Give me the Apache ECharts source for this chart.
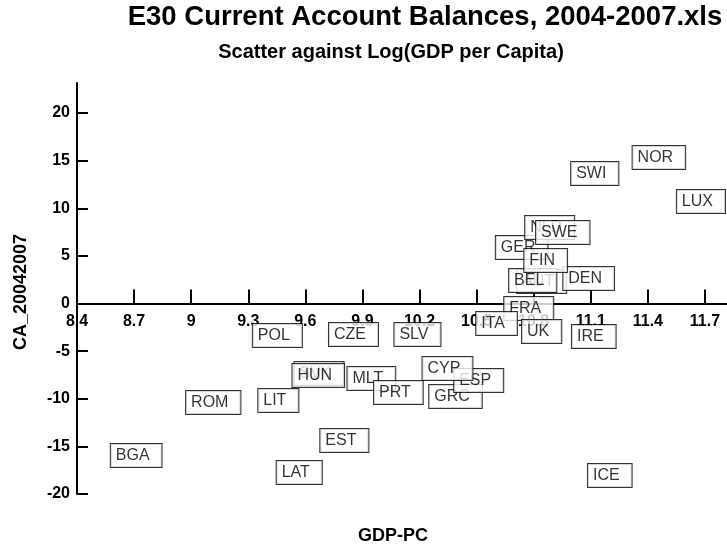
<!DOCTYPE html>
<html><head><meta charset="utf-8">
<script src="https://cdn.jsdelivr.net/npm/echarts@6/dist/echarts.min.js"></script>
<style>html,body{margin:0;padding:0;background:#fff}#c{width:727px;height:548px}</style>
</head><body><div id="c"></div>
<script>
// drawing order: earlier entries lie underneath later ones
const countries = ['BGA','ROM','LIT','LAT','EST','SVK','HUN','MLT','PRT','GRC','ESP','CYP','POL','CZE','SLV','FRA','ITA','UK','IRE','ICE','AUT','BEL','DEN','GER','NLD','SWE','FIN','SWI','NOR','LUX'];
const gdpPc = [8.711,9.116,9.458,9.568,9.805,9.672,9.668,9.947,10.089,10.389,10.511,10.347,9.453,9.853,10.189,10.774,10.605,10.842,11.116,11.200,10.842,10.795,11.089,10.737,10.884,10.953,10.863,11.121,11.458,11.679];
const caBalance = [-15.74,-10.18,-9.97,-17.52,-14.17,-7.14,-7.35,-7.66,-9.13,-9.55,-7.87,-6.61,-3.15,-3.04,-3.04,-0.31,-1.89,-2.73,-3.25,-17.84,2.52,2.62,2.83,6.09,8.18,7.66,4.72,13.85,15.53,10.91];
const xTicks = [8.4,8.7,9,9.3,9.6,9.9,10.2,10.5,10.8,11.1,11.4,11.7];
const yTicks = [-20,-15,-10,-5,0,5,10,15,20];

const FONT = '"Liberation Sans", Arial, sans-serif';
const Y_MIN = -20, Y_MAX = 23.15, GRID_TOP = 83, GRID_BOTTOM = 54, H = 548;
const plotH = H - GRID_TOP - GRID_BOTTOM;
// move the x axis (line, ticks and labels) up to y = 0
const xAxisOffset = -plotH * (0 - Y_MIN) / (Y_MAX - Y_MIN);

const chart = echarts.init(document.getElementById('c'), null, {renderer:'canvas'});
const data = countries.map((n,i)=>({name:n, value:[gdpPc[i], caBalance[i]]}));
chart.setOption({
  animation:false,
  backgroundColor:'#fff',
  grid:{left:77, right:0, top:GRID_TOP, bottom:GRID_BOTTOM},
  xAxis:{
    type:'value', min:8.4, max:11.816, offset:xAxisOffset,
    axisLine:{onZero:false, lineStyle:{color:'#000', width:2}},
    axisTick:{inside:true, length:14, lineStyle:{color:'#000', width:2}, customValues:xTicks},
    axisLabel:{color:'#000', fontSize:16, fontWeight:'bold', fontFamily:FONT, margin:10, customValues:xTicks, formatter:v=>String(v)},
    splitLine:{show:false}
  },
  yAxis:{
    type:'value', min:Y_MIN, max:Y_MAX,
    axisLine:{onZero:false, lineStyle:{color:'#000', width:2}},
    axisTick:{inside:true, length:11, lineStyle:{color:'#000', width:2}, customValues:yTicks},
    axisLabel:{color:'#000', fontSize:16, fontWeight:'bold', fontFamily:FONT, margin:7, customValues:yTicks, formatter:v=>String(v)},
    splitLine:{show:false}
  },
  graphic:[
    {type:'text', x:425, y:17, style:{text:'E30 Current Account Balances, 2004-2007.xls', font:'bold 27.5px '+FONT, fill:'#000', align:'center', verticalAlign:'middle'}},
    {type:'text', x:391, y:52, style:{text:'Scatter against Log(GDP per Capita)', font:'bold 20px '+FONT, fill:'#000', align:'center', verticalAlign:'middle'}},
    {type:'text', x:393, y:536, style:{text:'GDP-PC', font:'bold 18px '+FONT, fill:'#000', align:'center', verticalAlign:'middle'}},
    {type:'text', x:21, y:292, rotation:Math.PI/2, style:{text:'CA_20042007', font:'bold 18px '+FONT, fill:'#000', align:'center', verticalAlign:'middle'}}
  ],
  series:[{
    type:'scatter', data:data, symbolSize:1, itemStyle:{color:'rgba(0,0,0,0)'}, zlevel:1, z:5,
    emphasis:{disabled:true},
    label:{show:true, position:'inside', offset:[0,2], formatter:'{b}', color:'#000', fontSize:16, fontFamily:FONT,
      backgroundColor:'#fff', borderColor:'#000', borderWidth:1, padding:[3,12,3,5], lineHeight:17}
  }]
});
</script></body></html>
